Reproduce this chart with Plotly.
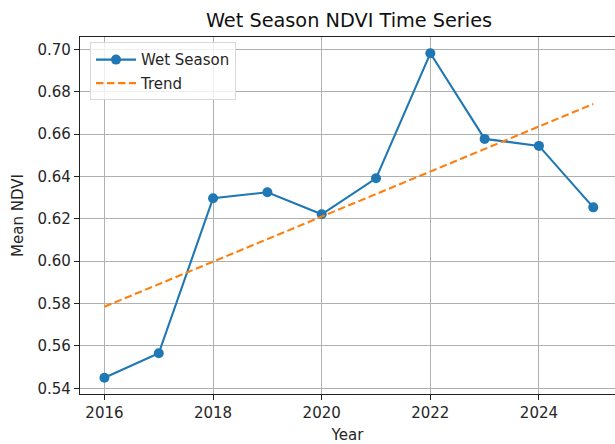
import plotly.graph_objects as go

years = [2016, 2017, 2018, 2019, 2020, 2021, 2022, 2023, 2024, 2025]
wet_ndvi = [0.545, 0.5565, 0.6297, 0.6325, 0.6221, 0.6391, 0.6981, 0.6577, 0.6544, 0.6254]
trend_years = [2016, 2025]
trend_vals = [0.5785, 0.6742]
x_ticks = [2016, 2018, 2020, 2022, 2024]
y_ticks = [0.54, 0.56, 0.58, 0.60, 0.62, 0.64, 0.66, 0.68, 0.70]

FONT = "DejaVu Sans"

fig = go.Figure()
fig.add_trace(go.Scatter(
    x=years, y=wet_ndvi, mode="lines+markers", name="Wet Season",
    line=dict(color="#1f77b4", width=2.1),
    marker=dict(color="#1f77b4", size=10),
    legendgroup="a",
))
fig.add_trace(go.Scatter(
    x=trend_years, y=trend_vals, mode="lines", name="Trend",
    line=dict(color="#ff7f0e", width=2.1, dash="7.5px,3.5px"),
    legendgroup="b",
))

fig.update_layout(
    width=615, height=444,
    margin=dict(l=80, r=0, t=37, b=50),
    paper_bgcolor="white", plot_bgcolor="white",
    font=dict(family=FONT, size=15, color="#262626"),
    title=dict(text="Wet Season NDVI Time Series", x=(80 + 618) / 2 / 615, xanchor="center",
               y=(444 - 20) / 444, yanchor="middle", yref="container",
               font=dict(family=FONT, size=19.3, color="#111111")),
    showlegend=True,
    legend=dict(x=0.0187, y=0.985, xanchor="left", yanchor="top",
                bgcolor="rgba(255,255,255,0.8)", bordercolor="#d8d8d8", borderwidth=1,
                font=dict(family=FONT, size=15, color="#262626"),
                itemwidth=40,
                traceorder="grouped", tracegroupgap=1),
)
fig.update_xaxes(
    range=[2015.55, 2025.40], tickvals=x_ticks, ticktext=[str(v) for v in x_ticks],
    showgrid=True, gridcolor="#b0b0b0", gridwidth=1,
    showline=True, linecolor="#222222", linewidth=1.2, mirror=True,
    ticks="outside", ticklen=5, tickcolor="#222222", tickwidth=1,
    zeroline=False,
    title=dict(text="Year", font=dict(family=FONT, size=15, color="#262626"), standoff=8),
)
fig.update_yaxes(
    range=[0.5373, 0.7058], tickvals=y_ticks, ticktext=["%.2f" % v for v in y_ticks],
    showgrid=True, gridcolor="#b0b0b0", gridwidth=1,
    showline=True, linecolor="#222222", linewidth=1.2, mirror=False,
    ticks="outside", ticklen=5, tickcolor="#222222", tickwidth=1,
    zeroline=False,
    title=dict(text="Mean NDVI", font=dict(family=FONT, size=15, color="#262626"), standoff=10),
)

fig.write_html("out.html", config={"displayModeBar": False},
               post_script="document.body.style.margin='0';document.body.style.padding='0';")
